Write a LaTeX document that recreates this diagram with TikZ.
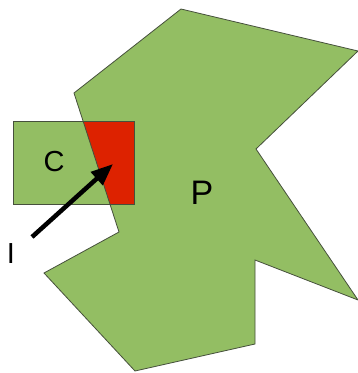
\documentclass[tikz,border=0pt]{standalone}
\usepackage{fontspec}
\setmainfont{Liberation Sans}
\usetikzlibrary{arrows.meta}
\definecolor{pgreen}{RGB}{147,190,99}
\definecolor{ired}{RGB}{221,34,0}
\definecolor{edge}{RGB}{70,80,60}
\tikzset{
  shapeline/.style={draw=edge, line width=0.8pt},
  lbl/.style={font=\fontsize{29}{29}\selectfont, inner sep=0pt},
  bigarrow/.style={line width=4.5pt, -{Triangle[length=22pt,width=17pt]}}
}
\begin{document}
\begin{tikzpicture}[x=1pt,y=-1pt]
\useasboundingbox (0,0) rectangle (358,373);
% polygon P vertices
\coordinate (p1) at (181,9);
\coordinate (p2) at (358,51);
\coordinate (p3) at (256,149);
\coordinate (p4) at (358,300);
\coordinate (p5) at (255,260);
\coordinate (p6) at (255,344);
\coordinate (p7) at (135,371);
\coordinate (p8) at (44,273);
\coordinate (p9) at (119,232);
\coordinate (p10) at (74,93);
% rectangle C corners
\coordinate (c1) at (13,121);
\coordinate (c2) at (134,204);
\def\polypath{(p1) -- (p2) -- (p3) -- (p4) -- (p5) -- (p6) -- (p7) -- (p8) -- (p9) -- (p10) -- cycle}
\fill[pgreen] \polypath;
\fill[pgreen] (c1) rectangle (c2);
\begin{scope}
  \clip \polypath;
  \fill[ired] (c1) rectangle (c2);
\end{scope}
\draw[shapeline] \polypath;
\draw[shapeline] (c1) rectangle (c2);
\node[lbl] (C) at (54,162) {C};
\node[lbl, font=\fontsize{34}{34}\selectfont] (P) at (202,193) {P};
\node[lbl] (I) at (11,254) {I};
\coordinate (astart) at (32,237);
\coordinate (atip) at (113,164);
\draw[bigarrow] (astart) -- (atip);
\end{tikzpicture}
\end{document}
